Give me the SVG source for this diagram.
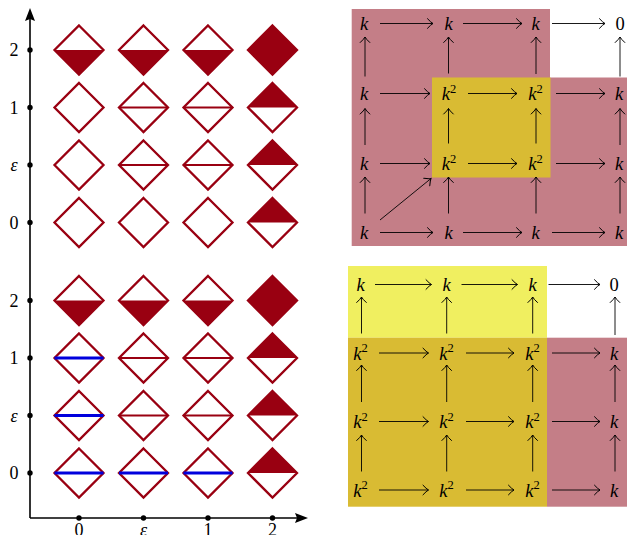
<svg xmlns="http://www.w3.org/2000/svg" xmlns:xlink="http://www.w3.org/1999/xlink" width="627" height="535" viewBox="0 0 627 535">
<style>
.d{fill:none;stroke:#990011;stroke-width:2.3}
.f{fill:#990011;stroke:none}
.rm{stroke:#990011;stroke-width:1.8}
.bl{stroke:#0000dd;stroke-width:3}
.ax{stroke:#000;stroke-width:1.6;fill:none}
.lab{font-family:"Liberation Serif",serif;font-size:18px;fill:#000;text-anchor:middle}
.it{font-style:italic}
.m{font-family:"Liberation Serif",serif;font-size:18.5px;font-style:italic;fill:#000;text-anchor:middle}
.z{font-family:"Liberation Serif",serif;font-size:18.5px;font-style:normal;fill:#000;text-anchor:middle}
.sup{font-style:normal;font-size:12.5px}
.a{stroke:#000;stroke-width:0.9;fill:none;marker-end:url(#ah)}
</style>
<defs>
<marker id="ah" markerUnits="userSpaceOnUse" markerWidth="12" markerHeight="12" viewBox="-7 -6 8 12" refX="0" refY="0" orient="auto" overflow="visible">
<path d="M-5.5,-4.8 Q-2,-1 0,0 Q-2,1 -5.5,4.8" fill="none" stroke="#000" stroke-width="1" stroke-linecap="round"/>
</marker>
<path id="dia" class="d" d="M0,-24.5 L24.5,0 L0,24.5 L-24.5,0 Z"/>
<path id="full" class="f" d="M0,-24.5 L24.5,0 L0,24.5 L-24.5,0 Z"/>
<path id="bot" class="f" d="M-24.5,0 L24.5,0 L0,24.5 Z"/>
<path id="top" class="f" d="M-24.5,0 L24.5,0 L0,-24.5 Z"/>
<line id="mid" class="rm" x1="-24.5" y1="0" x2="24.5" y2="0"/>
<line id="blue" class="bl" x1="-24.5" y1="0" x2="24.5" y2="0"/>
</defs>

<!-- axes -->
<g id="axes">
<line class="ax" x1="30" y1="518" x2="30" y2="18"/>
<polygon points="30,8 25,21 30,19 35,21" fill="#000"/>
<line class="ax" x1="30" y1="518" x2="298" y2="518"/>
<polygon points="308,518 295,513 297,518 295,523" fill="#000"/>
<g fill="#000">
<circle cx="30" cy="50" r="2.7"/><circle cx="30" cy="107.5" r="2.7"/><circle cx="30" cy="165" r="2.7"/><circle cx="30" cy="222.5" r="2.7"/>
<circle cx="30" cy="300.5" r="2.7"/><circle cx="30" cy="358" r="2.7"/><circle cx="30" cy="415.5" r="2.7"/><circle cx="30" cy="473" r="2.7"/>
<circle cx="79" cy="518" r="2.7"/><circle cx="143.5" cy="518" r="2.7"/><circle cx="208" cy="518" r="2.7"/><circle cx="272.5" cy="518" r="2.7"/>
</g>
<text class="lab" x="14" y="56">2</text>
<text class="lab" x="14" y="113.5">1</text>
<text class="lab it" x="14" y="171">ε</text>
<text class="lab" x="14" y="228.5">0</text>
<text class="lab" x="14" y="306.5">2</text>
<text class="lab" x="14" y="364">1</text>
<text class="lab it" x="14" y="421.5">ε</text>
<text class="lab" x="14" y="479">0</text>
<text class="lab" x="79" y="536">0</text>
<text class="lab it" x="143.5" y="536">ε</text>
<text class="lab" x="208" y="536">1</text>
<text class="lab" x="272.5" y="536">2</text>
</g>

<!-- top group of diamonds -->
<g id="top-2">
<use href="#bot" x="79" y="50"/><use href="#dia" x="79" y="50"/>
<use href="#bot" x="143.5" y="50"/><use href="#dia" x="143.5" y="50"/>
<use href="#bot" x="208" y="50"/><use href="#dia" x="208" y="50"/>
<use href="#full" x="272.5" y="50"/><use href="#dia" x="272.5" y="50"/>
</g>
<g id="top-1">
<use href="#dia" x="79" y="107.5"/>
<use href="#mid" x="143.5" y="107.5"/><use href="#dia" x="143.5" y="107.5"/>
<use href="#mid" x="208" y="107.5"/><use href="#dia" x="208" y="107.5"/>
<use href="#top" x="272.5" y="107.5"/><use href="#dia" x="272.5" y="107.5"/>
</g>
<g id="top-eps">
<use href="#dia" x="79" y="165"/>
<use href="#mid" x="143.5" y="165"/><use href="#dia" x="143.5" y="165"/>
<use href="#mid" x="208" y="165"/><use href="#dia" x="208" y="165"/>
<use href="#top" x="272.5" y="165"/><use href="#dia" x="272.5" y="165"/>
</g>
<g id="top-0">
<use href="#dia" x="79" y="222.5"/>
<use href="#dia" x="143.5" y="222.5"/>
<use href="#dia" x="208" y="222.5"/>
<use href="#top" x="272.5" y="222.5"/><use href="#dia" x="272.5" y="222.5"/>
</g>

<!-- bottom group of diamonds -->
<g id="bot-2">
<use href="#bot" x="79" y="300.5"/><use href="#dia" x="79" y="300.5"/>
<use href="#bot" x="143.5" y="300.5"/><use href="#dia" x="143.5" y="300.5"/>
<use href="#bot" x="208" y="300.5"/><use href="#dia" x="208" y="300.5"/>
<use href="#full" x="272.5" y="300.5"/><use href="#dia" x="272.5" y="300.5"/>
</g>
<g id="bot-1">
<use href="#dia" x="79" y="358"/><use href="#blue" x="79" y="358"/>
<use href="#mid" x="143.5" y="358"/><use href="#dia" x="143.5" y="358"/>
<use href="#mid" x="208" y="358"/><use href="#dia" x="208" y="358"/>
<use href="#top" x="272.5" y="358"/><use href="#dia" x="272.5" y="358"/>
</g>
<g id="bot-eps">
<use href="#dia" x="79" y="415.5"/><use href="#blue" x="79" y="415.5"/>
<use href="#mid" x="143.5" y="415.5"/><use href="#dia" x="143.5" y="415.5"/>
<use href="#mid" x="208" y="415.5"/><use href="#dia" x="208" y="415.5"/>
<use href="#top" x="272.5" y="415.5"/><use href="#dia" x="272.5" y="415.5"/>
</g>
<g id="bot-0">
<use href="#dia" x="79" y="473"/><use href="#blue" x="79" y="473"/>
<use href="#dia" x="143.5" y="473"/><use href="#blue" x="143.5" y="473"/>
<use href="#dia" x="208" y="473"/><use href="#blue" x="208" y="473"/>
<use href="#top" x="272.5" y="473"/><use href="#dia" x="272.5" y="473"/>
</g>

<!-- top right diagram -->
<g id="regions-top">
<path d="M351.7,9 H550 V77.5 H627 V246 H351.7 Z" fill="#c47e87"/>
<rect x="432" y="77.5" width="118.5" height="100" fill="#d9bb33"/>
</g>
<g id="connectors-top">
<line class="a" x1="380" y1="23.5" x2="433" y2="23.5"/>
<line class="a" x1="463" y1="23.5" x2="522" y2="23.5"/>
<line class="a" x1="552" y1="23.5" x2="605" y2="23.5"/>
<line class="a" x1="380" y1="93.5" x2="430" y2="93.5"/>
<line class="a" x1="468" y1="93.5" x2="517" y2="93.5"/>
<line class="a" x1="556" y1="93.5" x2="605" y2="93.5"/>
<line class="a" x1="380" y1="163.5" x2="430" y2="163.5"/>
<line class="a" x1="468" y1="163.5" x2="517" y2="163.5"/>
<line class="a" x1="556" y1="163.5" x2="605" y2="163.5"/>
<line class="a" x1="380" y1="232.5" x2="433" y2="232.5"/>
<line class="a" x1="463" y1="232.5" x2="522" y2="232.5"/>
<line class="a" x1="552" y1="232.5" x2="605" y2="232.5"/>
<line class="a" x1="365" y1="76.5" x2="365" y2="37"/>
<line class="a" x1="448.5" y1="73.5" x2="448.5" y2="37"/>
<line class="a" x1="536" y1="74" x2="536" y2="37"/>
<line class="a" x1="620" y1="76.5" x2="620" y2="37"/>
<line class="a" x1="365" y1="145" x2="365" y2="108.5"/>
<line class="a" x1="448.5" y1="143.5" x2="448.5" y2="108.5"/>
<line class="a" x1="536" y1="143.5" x2="536" y2="108.5"/>
<line class="a" x1="620" y1="145" x2="620" y2="108.5"/>
<line class="a" x1="365" y1="213.5" x2="365" y2="177"/>
<line class="a" x1="448.5" y1="213.5" x2="448.5" y2="177"/>
<line class="a" x1="536" y1="213.5" x2="536" y2="177"/>
<line class="a" x1="620" y1="213.5" x2="620" y2="177"/>
<line class="a" x1="380" y1="220" x2="431" y2="178.5"/>
</g>
<g id="nodes-top">
<text class="m" x="364" y="30">k</text>
<text class="m" x="448.5" y="30">k</text>
<text class="m" x="535.5" y="30">k</text>
<text class="z" x="620" y="30">0</text>
<text class="m" x="364" y="100">k</text>
<text class="m" x="449" y="100">k<tspan class="sup" dy="-7.5">2</tspan></text>
<text class="m" x="535.5" y="100">k<tspan class="sup" dy="-7.5">2</tspan></text>
<text class="m" x="619" y="100">k</text>
<text class="m" x="364" y="170">k</text>
<text class="m" x="449" y="170">k<tspan class="sup" dy="-7.5">2</tspan></text>
<text class="m" x="535.5" y="170">k<tspan class="sup" dy="-7.5">2</tspan></text>
<text class="m" x="619" y="170">k</text>
<text class="m" x="364" y="239">k</text>
<text class="m" x="448.5" y="239">k</text>
<text class="m" x="535.5" y="239">k</text>
<text class="m" x="619" y="239">k</text>
</g>

<!-- bottom right diagram -->
<g id="regions-bottom">
<rect x="348" y="266" width="199" height="71.7" fill="#f0ef60"/>
<rect x="348" y="337.7" width="199" height="169" fill="#d9bb33"/>
<rect x="547" y="337.7" width="80" height="169" fill="#c47e87"/>
</g>
<g id="connectors-bottom">
<line class="a" x1="375" y1="284.5" x2="431.5" y2="284.5"/>
<line class="a" x1="461.5" y1="284.5" x2="517.5" y2="284.5"/>
<line class="a" x1="548.5" y1="284.5" x2="600" y2="284.5"/>
<line class="a" x1="379" y1="353" x2="428.5" y2="353"/>
<line class="a" x1="466" y1="353" x2="514" y2="353"/>
<line class="a" x1="552" y1="353" x2="600" y2="353"/>
<line class="a" x1="379" y1="421.5" x2="428.5" y2="421.5"/>
<line class="a" x1="466" y1="421.5" x2="514" y2="421.5"/>
<line class="a" x1="552" y1="421.5" x2="600" y2="421.5"/>
<line class="a" x1="379" y1="490" x2="428.5" y2="490"/>
<line class="a" x1="466" y1="490" x2="514" y2="490"/>
<line class="a" x1="552" y1="490" x2="600" y2="490"/>
<line class="a" x1="361.5" y1="333.5" x2="361.5" y2="297"/>
<line class="a" x1="446.7" y1="333.5" x2="446.7" y2="297"/>
<line class="a" x1="532.7" y1="333.5" x2="532.7" y2="297"/>
<line class="a" x1="615" y1="335" x2="615" y2="297"/>
<line class="a" x1="361.5" y1="402" x2="361.5" y2="365"/>
<line class="a" x1="446.7" y1="402" x2="446.7" y2="365"/>
<line class="a" x1="532.7" y1="402" x2="532.7" y2="365"/>
<line class="a" x1="615" y1="402" x2="615" y2="365"/>
<line class="a" x1="361.5" y1="471.5" x2="361.5" y2="435"/>
<line class="a" x1="446.7" y1="471.5" x2="446.7" y2="435"/>
<line class="a" x1="532.7" y1="471.5" x2="532.7" y2="435"/>
<line class="a" x1="615" y1="471.5" x2="615" y2="435"/>
</g>
<g id="nodes-bottom">
<text class="m" x="360.5" y="291">k</text>
<text class="m" x="446.5" y="291">k</text>
<text class="m" x="532.5" y="291">k</text>
<text class="z" x="614" y="291">0</text>
<text class="m" x="360.5" y="359.5">k<tspan class="sup" dy="-7.5">2</tspan></text>
<text class="m" x="446.5" y="359.5">k<tspan class="sup" dy="-7.5">2</tspan></text>
<text class="m" x="532.5" y="359.5">k<tspan class="sup" dy="-7.5">2</tspan></text>
<text class="m" x="614" y="359.5">k</text>
<text class="m" x="360.5" y="428">k<tspan class="sup" dy="-7.5">2</tspan></text>
<text class="m" x="446.5" y="428">k<tspan class="sup" dy="-7.5">2</tspan></text>
<text class="m" x="532.5" y="428">k<tspan class="sup" dy="-7.5">2</tspan></text>
<text class="m" x="614" y="428">k</text>
<text class="m" x="360.5" y="496.5">k<tspan class="sup" dy="-7.5">2</tspan></text>
<text class="m" x="446.5" y="496.5">k<tspan class="sup" dy="-7.5">2</tspan></text>
<text class="m" x="532.5" y="496.5">k<tspan class="sup" dy="-7.5">2</tspan></text>
<text class="m" x="614" y="496.5">k</text>
</g>
</svg>
